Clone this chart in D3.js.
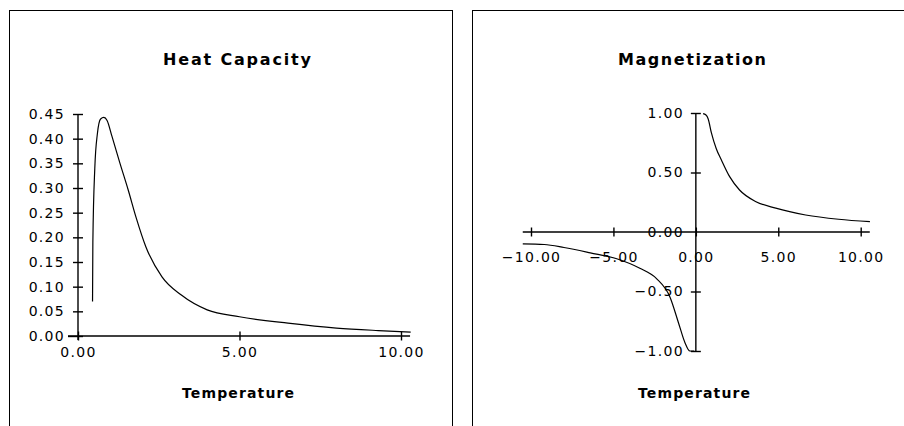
<!DOCTYPE html>
<html><head><meta charset="utf-8">
<script src="https://cdn.jsdelivr.net/npm/d3@7"></script>
<style>
html,body{margin:0;padding:0;background:#fff;}
svg{display:block;}
.tick-label{font-family:"DejaVu Sans",sans-serif;font-size:14px;letter-spacing:1.3px;fill:#000;}
.title{font-family:"DejaVu Sans",sans-serif;font-weight:bold;font-size:16px;fill:#000;}
.xlabel{font-family:"DejaVu Sans",sans-serif;font-weight:bold;font-size:14px;fill:#000;}
</style></head>
<body>
<script>
// ---- Data ----
const heatTitle = "Heat Capacity";
const magTitle = "Magnetization";
const xLabelText = "Temperature";

const heatT = [0.45, 0.46, 0.52, 0.6, 0.7, 0.8, 0.9, 1.05, 1.3, 1.55, 1.8, 2.1, 2.6, 3.2, 4.0, 5.0, 6.5, 8.0, 9.3, 10.3];
const heatC = [0.07, 0.19, 0.34, 0.41, 0.44, 0.443, 0.437, 0.405, 0.35, 0.297, 0.24, 0.181, 0.12, 0.083, 0.053, 0.039, 0.026, 0.016, 0.011, 0.008];

const magPosT = [0.44, 0.6, 0.75, 0.94, 1.24, 1.55, 2.05, 2.65, 3.65, 4.85, 6.66, 8.66, 10.56];
const magPosM = [0.995, 0.985, 0.95, 0.835, 0.70, 0.605, 0.465, 0.353, 0.255, 0.2, 0.143, 0.107, 0.087];
const magNegT = [-10.5, -9.2, -8.0, -6.4, -4.8, -3.4, -2.4, -1.56, -1.06, -0.66, -0.36, -0.1];
const magNegM = [-0.10, -0.105, -0.13, -0.175, -0.225, -0.305, -0.39, -0.55, -0.76, -0.93, -1.0, -1.0];

const heatXTicks = [0, 5, 10];
const heatYTicks = [0, 0.05, 0.10, 0.15, 0.20, 0.25, 0.30, 0.35, 0.40, 0.45];
const magXTicks = [-10, -5, 0, 5, 10];
const magYTicks = [-1, -0.5, 0, 0.5, 1];

// ---- Drawing ----
const W = 904, H = 426;
const svg = d3.select("body").append("svg").attr("width", W).attr("height", H);
svg.append("rect").attr("width", W).attr("height", H).attr("fill", "#fff");

// panel frames
svg.append("rect").attr("x", 9.5).attr("y", 10.5).attr("width", 443).attr("height", 430)
  .attr("fill", "none").attr("stroke", "#000").attr("stroke-width", 1);
svg.append("rect").attr("x", 472.5).attr("y", 10.5).attr("width", 450).attr("height", 430)
  .attr("fill", "none").attr("stroke", "#000").attr("stroke-width", 1);

const fmt = d3.format(".2f");
const axisW = 1.4;

function crossTicks(g, horizontal) {
  g.selectAll(".tick line").attr("stroke", "#000").attr("stroke-width", axisW);
  if (horizontal) g.selectAll(".tick line").attr("y1", -4.5).attr("y2", 4.5);
  else g.selectAll(".tick line").attr("x1", -5).attr("x2", 5);
  g.select(".domain").remove();
  g.selectAll(".tick text").attr("class", "tick-label").attr("font-size", null).attr("font-family", null);
}

// ===== Heat Capacity =====
{
  const x = d3.scaleLinear().domain([0, 10]).range([78, 401]);
  const y = d3.scaleLinear().domain([0, 0.45]).range([336, 114]);
  const g = svg.append("g");

  g.append("line").attr("x1", x(-0.31)).attr("x2", x(10.28)).attr("y1", y(0)).attr("y2", y(0))
    .attr("stroke", "#000").attr("stroke-width", axisW);
  g.append("line").attr("x1", x(0)).attr("x2", x(0)).attr("y1", y(0.45)).attr("y2", y(0) + 4)
    .attr("stroke", "#000").attr("stroke-width", axisW);

  const xa = g.append("g").attr("transform", `translate(0,${y(0)})`)
    .call(d3.axisBottom(x).tickValues(heatXTicks).tickFormat(fmt).tickSize(0));
  crossTicks(xa, true);
  xa.selectAll(".tick text").attr("dy", "0.71em").attr("y", 11);

  const ya = g.append("g").attr("transform", `translate(${x(0)},0)`)
    .call(d3.axisLeft(y).tickValues(heatYTicks).tickFormat(fmt).tickSize(0).tickPadding(13));
  crossTicks(ya, false);
  ya.selectAll(".tick line").filter(d => d === 0).attr("x1", -10);

  const line = d3.line().x(d => x(d[0])).y(d => y(d[1])).curve(d3.curveMonotoneX);
  g.append("path").datum(d3.zip(heatT, heatC)).attr("d", line)
    .attr("fill", "none").attr("stroke", "#000").attr("stroke-width", 1.2);

  g.append("text").attr("class", "title").attr("x", 237).attr("y", 65).attr("text-anchor", "middle")
    .attr("textLength", 148).attr("lengthAdjust", "spacing").text(heatTitle);
  g.append("text").attr("class", "xlabel").attr("x", 238).attr("y", 398).attr("text-anchor", "middle")
    .attr("textLength", 112).attr("lengthAdjust", "spacing").text(xLabelText);
}

// ===== Magnetization =====
{
  const x = d3.scaleLinear().domain([-10, 10]).range([531, 860.7]);
  const y = d3.scaleLinear().domain([-1, 1]).range([351, 113]);
  const g = svg.append("g");

  g.append("line").attr("x1", x(-10.5)).attr("x2", x(10.55)).attr("y1", y(0)).attr("y2", y(0))
    .attr("stroke", "#000").attr("stroke-width", axisW);
  g.append("line").attr("x1", x(0)).attr("x2", x(0)).attr("y1", y(1)).attr("y2", y(-1))
    .attr("stroke", "#000").attr("stroke-width", axisW);

  const xa = g.append("g").attr("transform", `translate(0,${y(0)})`)
    .call(d3.axisBottom(x).tickValues(magXTicks).tickFormat(fmt).tickSize(0));
  crossTicks(xa, true);
  xa.selectAll(".tick text").attr("dy", "0.71em").attr("y", 20);

  const ya = g.append("g").attr("transform", `translate(${x(0)},0)`)
    .call(d3.axisLeft(y).tickValues(magYTicks).tickFormat(fmt).tickSize(0).tickPadding(12));
  crossTicks(ya, false);
  ya.selectAll(".tick line").filter(d => d === 0).remove();

  const line = d3.line().x(d => x(d[0])).y(d => y(d[1])).curve(d3.curveMonotoneX);
  g.append("path").datum(d3.zip(magPosT, magPosM)).attr("d", line)
    .attr("fill", "none").attr("stroke", "#000").attr("stroke-width", 1.2);
  g.append("path").datum(d3.zip(magNegT, magNegM)).attr("d", line)
    .attr("fill", "none").attr("stroke", "#000").attr("stroke-width", 1.2);

  g.append("text").attr("class", "title").attr("x", 692).attr("y", 65).attr("text-anchor", "middle")
    .attr("textLength", 148).attr("lengthAdjust", "spacing").text(magTitle);
  g.append("text").attr("class", "xlabel").attr("x", 694).attr("y", 398).attr("text-anchor", "middle")
    .attr("textLength", 112).attr("lengthAdjust", "spacing").text(xLabelText);
}
</script>
</body></html>
